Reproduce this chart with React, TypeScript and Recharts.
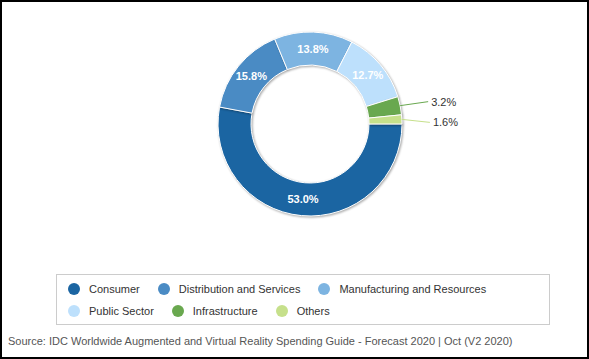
import { Cell, Pie, PieChart } from "recharts";

const segments = [
  "Consumer",
  "Distribution and Services",
  "Manufacturing and Resources",
  "Public Sector",
  "Infrastructure",
  "Others",
];
const shares = [53.0, 15.8, 13.8, 12.7, 3.2, 1.6];
const colors = ["#1b65a2", "#4a8bc4", "#7db4e1", "#bde0fc", "#69a84f", "#c6e08b"];
const legendRows = [
  [0, 1, 2],
  [3, 4, 5],
];
const source =
  "Source: IDC Worldwide Augmented and Virtual Reality Spending Guide - Forecast 2020 | Oct (V2 2020)";

const data = segments.map((name, i) => ({ name, value: shares[i] }));

const FONT = "'Liberation Sans', Arial, sans-serif";
const RAD = Math.PI / 180;

// small slices get pulled apart a bit so their labels don't touch
const outsideNudge: Record<number, number> = { 4: -4, 5: 3 };

function renderLabel(props: any) {
  const { cx, cy, midAngle, innerRadius, outerRadius, index } = props;
  const cos = Math.cos(-midAngle * RAD);
  const sin = Math.sin(-midAngle * RAD);
  const text = shares[index].toFixed(1) + "%";
  if (shares[index] >= 5) {
    const r = (innerRadius + outerRadius) / 2;
    return (
      <text
        x={cx + r * cos}
        y={cy + r * sin}
        fill="#fff"
        fontSize={11}
        fontWeight="bold"
        fontFamily={FONT}
        textAnchor="middle"
        dominantBaseline="central"
      >
        {text}
      </text>
    );
  }
  const sx = cx + outerRadius * cos;
  const sy = cy + outerRadius * sin;
  const ex = sx + 28;
  const ey = sy + (outsideNudge[index] || 0);
  return (
    <g>
      <path d={`M${sx},${sy}L${ex},${ey}`} stroke={colors[index]} fill="none" strokeWidth={1} />
      <text
        x={ex + 3}
        y={ey}
        fill="#333"
        fontSize={11}
        fontFamily={FONT}
        textAnchor="start"
        dominantBaseline="central"
      >
        {text}
      </text>
    </g>
  );
}

export default function App() {
  return (
    <div
      style={{
        position: "absolute",
        left: 0,
        top: 0,
        width: 589,
        height: 359,
        background: "#fff",
        fontFamily: FONT,
      }}
    >
      <div style={{ position: "absolute", left: 0, top: 0 }}>
        <PieChart width={589} height={270} margin={{ top: 0, right: 0, bottom: 0, left: 0 }}>
          <Pie
            data={data}
            dataKey="value"
            nameKey="name"
            cx={310}
            cy={124}
            innerRadius={59}
            outerRadius={92}
            startAngle={0}
            endAngle={-360}
            stroke="#fff"
            strokeWidth={1}
            label={renderLabel}
            labelLine={false}
            isAnimationActive={false}
            style={{ filter: "drop-shadow(1px 1px 1px rgba(0,0,0,0.35))" }}
          >
            {data.map((d, i) => (
              <Cell key={d.name} fill={colors[i]} />
            ))}
          </Pie>
        </PieChart>
      </div>

      <div
        style={{
          position: "absolute",
          left: 56,
          top: 274,
          width: 494,
          height: 51,
          border: "1px solid #ccc",
          boxSizing: "border-box",
          paddingTop: 3,
          paddingLeft: 11,
        }}
      >
        {legendRows.map((row, r) => (
          <div key={r} style={{ display: "flex", height: 22, alignItems: "center" }}>
            {row.map((i) => (
              <div key={i} style={{ display: "flex", alignItems: "center", marginRight: 18 }}>
                <span
                  style={{
                    display: "inline-block",
                    width: 12,
                    height: 12,
                    borderRadius: 6,
                    background: colors[i],
                    marginRight: 9,
                  }}
                />
                <span style={{ fontSize: 11, color: "#333" }}>{segments[i]}</span>
              </div>
            ))}
          </div>
        ))}
      </div>

      <div
        style={{
          position: "absolute",
          left: 8,
          top: 335,
          fontSize: 11,
          color: "#555",
          whiteSpace: "nowrap",
        }}
      >
        {source}
      </div>

      <div
        style={{
          position: "absolute",
          left: 0,
          top: 0,
          width: 589,
          height: 359,
          border: "2px solid #000",
          boxSizing: "border-box",
          pointerEvents: "none",
        }}
      />
    </div>
  );
}
